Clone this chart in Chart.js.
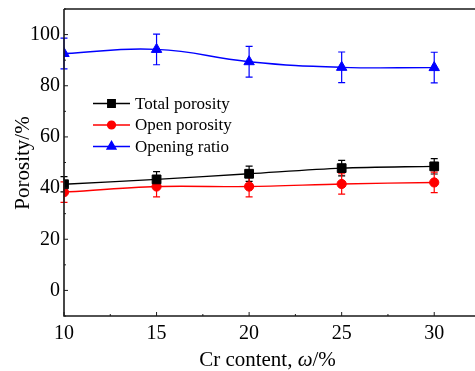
<!DOCTYPE html>
<html>
<head>
<meta charset="utf-8">
<script src="https://cdn.jsdelivr.net/npm/chart.js@4.4.1/dist/chart.umd.min.js"></script>
<style>
  html, body { margin: 0; padding: 0; background: #fff; overflow: hidden; }
  /* the plot frame runs off the right edge of the page */
  #wrap { width: 484px; height: 371px; position: relative; }
</style>
</head>
<body>
<div id="wrap"><canvas id="porosityChart"></canvas></div>
<script>
// Cr content (wt%) and measured porosity values
const crContent = [10, 15, 20, 25, 30];
const totalPorosity = [41.5, 43.4, 45.6, 47.8, 48.5];
const openPorosity = [38.4, 40.6, 40.6, 41.6, 42.2];
const openingRatio = [92.6, 94.2, 89.4, 87.2, 87.1];

// standard deviations for the error bars
const totalErr = [3, 3, 3, 3, 3];
const openErr = [4, 4, 4, 4, 4];
const ratioErr = [6, 6, 6, 6, 6];

const xTicks = [10, 15, 20, 25, 30];
const yTicks = [0, 20, 40, 60, 80, 100];

const FONT = 'Liberation Serif, Times New Roman, serif';
const AXIS = '#1a1a1a';

function pts(ys) {
    return crContent.map((x, i) => ({ x: x, y: ys[i] }));
}

const seriesDefs = [
    { label: 'Total porosity', data: totalPorosity, err: totalErr, color: '#000000', style: 'rect', r: 6.2 },
    { label: 'Open porosity', data: openPorosity, err: openErr, color: '#ff0000', style: 'circle', r: 4.6 },
    { label: 'Opening ratio', data: openingRatio, err: ratioErr, color: '#0000ff', style: 'triangle', r: 6 }
];

// error bars under the markers
const errorBars = {
    id: 'errorBars',
    beforeDatasetsDraw(chart) {
        const { ctx, scales: { x, y } } = chart;
        ctx.save();
        ctx.lineWidth = 1.2;
        seriesDefs.forEach(s => {
            ctx.strokeStyle = s.color;
            s.data.forEach((v, i) => {
                const px = x.getPixelForValue(crContent[i]);
                const top = y.getPixelForValue(v + s.err[i]);
                const bot = y.getPixelForValue(v - s.err[i]);
                ctx.beginPath();
                ctx.moveTo(px, top); ctx.lineTo(px, bot);
                ctx.moveTo(px - 3.5, top); ctx.lineTo(px + 3.5, top);
                ctx.moveTo(px - 3.5, bot); ctx.lineTo(px + 3.5, bot);
                ctx.stroke();
            });
        });
        ctx.restore();
    }
};

// frame, inward ticks, axis titles and the legend box
const frame = {
    id: 'frame',
    afterDraw(chart) {
        const { ctx, chartArea: a, scales: { x, y } } = chart;
        ctx.save();
        ctx.strokeStyle = AXIS;
        ctx.lineWidth = 1.6;
        ctx.beginPath();
        ctx.moveTo(a.left, a.top); ctx.lineTo(a.right, a.top);
        ctx.moveTo(a.left, a.top); ctx.lineTo(a.left, a.bottom);
        ctx.lineTo(a.right, a.bottom);
        ctx.stroke();

        ctx.lineWidth = 1;
        ctx.beginPath();
        for (let v = 10; v <= 32.5; v += 2.5) {
            const px = x.getPixelForValue(v);
            const len = v % 5 === 0 ? 4 : 2;
            ctx.moveTo(px, a.bottom); ctx.lineTo(px, a.bottom - len);
        }
        for (let v = -10; v <= 110; v += 10) {
            const py = y.getPixelForValue(v);
            const len = v % 20 === 0 ? 4 : 2;
            ctx.moveTo(a.left, py); ctx.lineTo(a.left + len, py);
        }
        ctx.stroke();

        // axis titles
        ctx.fillStyle = '#000';
        ctx.textBaseline = 'alphabetic';
        ctx.font = '21px ' + FONT;
        const p1 = 'Cr content, ', p2 = 'ω', p3 = '/%';
        const w1 = ctx.measureText(p1).width;
        const w3 = ctx.measureText(p3).width;
        ctx.font = 'italic 21px ' + FONT;
        const w2 = ctx.measureText(p2).width;
        let tx = 267.5 - (w1 + w2 + w3) / 2;
        const ty = 366;
        ctx.font = '21px ' + FONT;
        ctx.textAlign = 'left';
        ctx.fillText(p1, tx, ty);
        ctx.font = 'italic 21px ' + FONT;
        ctx.fillText(p2, tx + w1, ty);
        ctx.font = '21px ' + FONT;
        ctx.fillText(p3, tx + w1 + w2, ty);

        ctx.save();
        ctx.translate(29, 163);
        ctx.rotate(-Math.PI / 2);
        ctx.textAlign = 'center';
        ctx.fillText('Porosity/%', 0, 0);
        ctx.restore();

        // legend
        const rows = [103.5, 125, 146.5];
        ctx.font = '17px ' + FONT;
        ctx.textBaseline = 'middle';
        seriesDefs.forEach((s, i) => {
            const ly = rows[i];
            ctx.strokeStyle = s.color;
            ctx.fillStyle = s.color;
            ctx.lineWidth = 1.4;
            ctx.beginPath();
            ctx.moveTo(93, ly); ctx.lineTo(130, ly);
            ctx.stroke();
            Chart.helpers.drawPoint(ctx, { pointStyle: s.style, radius: s.r * 0.85, rotation: 0, borderWidth: 1 }, 111.5, ly);
            ctx.fillStyle = '#000';
            ctx.fillText(s.label, 135, ly + 1);
        });
        ctx.restore();
    }
};

const datasets = seriesDefs.map(s => ({
    label: s.label,
    data: pts(s.data),
    showLine: true,
    borderColor: s.color,
    backgroundColor: s.color,
    borderWidth: 1.4,
    tension: s.style === 'triangle' ? 0.45 : 0.3,
    pointStyle: s.style,
    pointRadius: s.r,
    pointBorderWidth: 1,
    pointBorderColor: s.color,
    pointBackgroundColor: s.color
}));

new Chart(document.getElementById('porosityChart'), {
    type: 'scatter',
    data: { datasets: datasets },
    options: {
        responsive: true,
        maintainAspectRatio: false,
        animation: false,
        layout: { padding: { top: 9, right: 0, left: 0, bottom: 0 } },
        plugins: {
            legend: { display: false },
            tooltip: { enabled: false }
        },
        scales: {
            x: {
                type: 'linear',
                min: 10,
                max: 32.3,
                grid: { display: false, drawTicks: false },
                border: { display: false },
                afterBuildTicks: s => { s.ticks = xTicks.map(v => ({ value: v })); },
                afterFit: s => { s.height = 55; s.paddingLeft = 0; s.paddingRight = 0; },
                ticks: {
                    color: '#000',
                    padding: 6,
                    maxRotation: 0,
                    autoSkip: false,
                    font: { family: FONT, size: 20 }
                }
            },
            y: {
                min: -10,
                max: 110,
                grid: { display: false, drawTicks: false },
                border: { display: false },
                afterBuildTicks: s => { s.ticks = yTicks.map(v => ({ value: v })); },
                afterFit: s => { s.width = 64; s.paddingTop = 0; s.paddingBottom = 0; },
                ticks: {
                    color: '#000',
                    padding: 4,
                    autoSkip: false,
                    font: { family: FONT, size: 20 }
                }
            }
        }
    },
    plugins: [errorBars, frame]
});
</script>
</body>
</html>
